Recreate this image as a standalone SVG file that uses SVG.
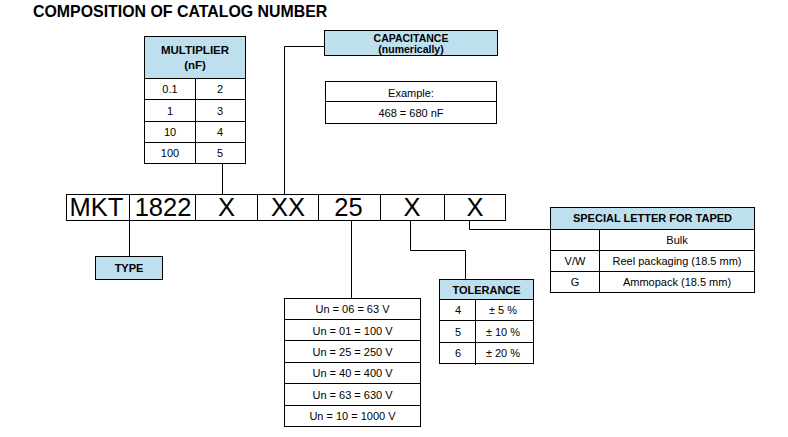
<svg xmlns="http://www.w3.org/2000/svg" width="788" height="437" viewBox="0 0 788 437">
<style>
text{font-family:"Liberation Sans",Arial,sans-serif;fill:#000}
.t{font-size:11px;text-anchor:middle}
.h{font-size:11.5px;font-weight:bold;text-anchor:middle}
.c{font-size:25.5px;text-anchor:middle}
.hd{fill:#BEDFEE;stroke:#000;stroke-width:1}
.bx{fill:#fff;stroke:#000;stroke-width:1}
.ln{fill:none;stroke:#000;stroke-width:1}
</style>
<rect width="788" height="437" fill="#fff"/>
<text x="33" y="16.5" style="font-size:15.9px;font-weight:bold">COMPOSITION OF CATALOG NUMBER</text>

<g id="connectors" class="ln">
<path d="M222.5 163.5V194.5"/>
<path d="M284.5 194.5V46.5H324.5"/>
<path d="M129.5 220.5V256.5"/>
<path d="M351.5 220.5V298.5"/>
<path d="M410.5 220.5V250.5H465.5V279.5"/>
<path d="M469.5 220.5V229.5H550.5"/>
</g>

<g id="code">
<rect x="66.5" y="194.5" width="439" height="26" class="bx"/>
<path d="M129.5 194.5V220.5M195.5 194.5V220.5M257.5 194.5V220.5M318.5 194.5V220.5M380.5 194.5V220.5M444.5 194.5V220.5" class="ln"/>
<text x="96.5" y="215.5" class="c">MKT</text>
<text x="163" y="215.5" class="c">1822</text>
<text x="226.5" y="215.5" class="c">X</text>
<text x="288" y="215.5" class="c">XX</text>
<text x="348.5" y="215.5" class="c">25</text>
<text x="412" y="215.5" class="c">X</text>
<text x="475" y="215.5" class="c">X</text>
</g>

<g id="multiplier">
<rect x="144.5" y="36.5" width="101" height="42" class="hd"/>
<rect x="144.5" y="78.5" width="101" height="85" class="bx"/>
<path d="M144.5 99.5H245.5M144.5 121.5H245.5M144.5 142.5H245.5M195.5 78.5V163.5" class="ln"/>
<text x="195" y="54" class="h">MULTIPLIER</text>
<text x="195" y="68.5" class="h">(nF)</text>
<text x="170" y="93" class="t">0.1</text><text x="220" y="93" class="t">2</text>
<text x="170" y="114.5" class="t">1</text><text x="220" y="114.5" class="t">3</text>
<text x="170" y="136" class="t">10</text><text x="220" y="136" class="t">4</text>
<text x="170" y="157" class="t">100</text><text x="220" y="157" class="t">5</text>
</g>

<g id="capacitance">
<rect x="324.5" y="30.5" width="173" height="25" class="hd"/>
<text x="411" y="42" class="h" style="font-size:10.5px">CAPACITANCE</text>
<text x="411" y="53.2" class="h" style="font-size:10.5px">(numerically)</text>
</g>

<g id="example">
<rect x="325.5" y="81.5" width="171" height="42" class="bx"/>
<path d="M325.5 101.5H496.5" class="ln"/>
<text x="411" y="96.5" class="t">Example:</text>
<text x="411" y="117" class="t">468 = 680 nF</text>
</g>

<g id="type">
<rect x="95.5" y="256.5" width="67" height="23" class="hd"/>
<text x="129" y="272" class="h" style="font-size:11px">TYPE</text>
</g>

<g id="voltage">
<rect x="284.5" y="298.5" width="136" height="128" class="bx"/>
<path d="M284.5 319.5H420.5M284.5 340.5H420.5M284.5 362.5H420.5M284.5 383.5H420.5M284.5 405.5H420.5" class="ln"/>
<text x="352.5" y="313" class="t">Un = 06 = 63 V</text>
<text x="352.5" y="334.5" class="t">Un = 01 = 100 V</text>
<text x="352.5" y="355.5" class="t">Un = 25 = 250 V</text>
<text x="352.5" y="377" class="t">Un = 40 = 400 V</text>
<text x="352.5" y="398.5" class="t">Un = 63 = 630 V</text>
<text x="352.5" y="420" class="t">Un = 10 = 1000 V</text>
</g>

<g id="tolerance">
<rect x="439.5" y="279.5" width="94" height="20" class="hd"/>
<rect x="439.5" y="299.5" width="94" height="64" class="bx"/>
<path d="M439.5 320.5H533.5M439.5 342.5H533.5M475.5 299.5V365" class="ln"/>
<text x="486.5" y="293.5" class="h" style="font-size:11px">TOLERANCE</text>
<text x="458" y="314" class="t">4</text><text x="503" y="314" class="t">± 5 %</text>
<text x="458" y="335.5" class="t">5</text><text x="503" y="335.5" class="t">± 10 %</text>
<text x="458" y="357" class="t">6</text><text x="503" y="357" class="t">± 20 %</text>
</g>

<g id="special">
<rect x="550.5" y="207.5" width="204" height="22" class="hd"/>
<rect x="550.5" y="229.5" width="204" height="63" class="bx"/>
<path d="M550.5 250.5H754.5M550.5 271.5H754.5M599.5 229.5V292.5" class="ln"/>
<text x="652.5" y="222" class="h" style="font-size:11px">SPECIAL LETTER FOR TAPED</text>
<text x="677" y="244" class="t">Bulk</text>
<text x="575" y="265" class="t">V/W</text><text x="677" y="265" class="t">Reel packaging (18.5 mm)</text>
<text x="575" y="286" class="t">G</text><text x="677" y="286" class="t">Ammopack (18.5 mm)</text>
</g>
</svg>
